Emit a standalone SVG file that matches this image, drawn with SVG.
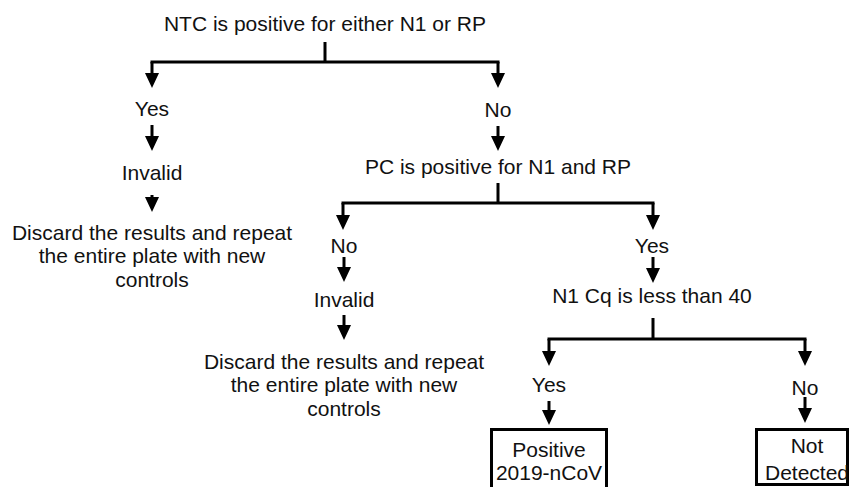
<svg xmlns="http://www.w3.org/2000/svg" width="850" height="487" viewBox="0 0 850 487">
<defs>
<marker id="ah" viewBox="0 0 15 14" refX="5" refY="7" markerWidth="15" markerHeight="14" markerUnits="userSpaceOnUse" orient="auto">
<path d="M0,0 L15,7 L0,14 z" fill="#000"/>
</marker>
<style>
text{font-family:"Liberation Sans",Arial,Helvetica,sans-serif;font-size:21px;fill:#111;text-anchor:middle}
.ln{stroke:#000;stroke-width:3;fill:none}
.ar{stroke:#000;stroke-width:3;fill:none;marker-end:url(#ah)}
.box{stroke:#000;stroke-width:3;fill:#fff}
</style>
</defs>
<rect width="850" height="487" fill="#fff"/>
<g id="connectors">
<path class="ln" d="M325,42 V62 M150.5,62 H499.5"/>
<path class="ar" d="M152,62 V78"/>
<path class="ar" d="M498,62 V78"/>
<path class="ar" d="M152,125 V141"/>
<path class="ar" d="M498,126 V141"/>
<path class="ar" d="M152,195 V202"/>
<path class="ln" d="M498,183 V203 M341.5,203 H654.5"/>
<path class="ar" d="M343,203 V220"/>
<path class="ar" d="M653,203 V220"/>
<path class="ar" d="M344,257 V272"/>
<path class="ar" d="M344,315 V330"/>
<path class="ar" d="M653,257 V273"/>
<path class="ln" d="M653,318 V339 M547.5,339 H806.5"/>
<path class="ar" d="M549,339 V356"/>
<path class="ar" d="M805,339 V356"/>
<path class="ar" d="M549,401 V415"/>
<path class="ar" d="M805,397 V413"/>
</g>
<g id="n-ntc"><text x="325" y="31">NTC is positive for either N1 or RP</text></g>
<g id="n-yes1"><text x="152" y="116">Yes</text></g>
<g id="n-no1"><text x="498" y="117">No</text></g>
<g id="n-invalid1"><text x="152" y="180">Invalid</text></g>
<g id="n-discard1"><text x="152" y="240">Discard the results and repeat</text><text x="152" y="263">the entire plate with new</text><text x="152" y="287">controls</text></g>
<g id="n-pc"><text x="498" y="174">PC is positive for N1 and RP</text></g>
<g id="n-no2"><text x="344" y="253">No</text></g>
<g id="n-invalid2"><text x="344" y="307">Invalid</text></g>
<g id="n-discard2"><text x="344" y="369">Discard the results and repeat</text><text x="344" y="392">the entire plate with new</text><text x="344" y="416">controls</text></g>
<g id="n-yes2"><text x="652" y="253">Yes</text></g>
<g id="n-n1cq"><text x="652" y="303">N1 Cq is less than 40</text></g>
<g id="n-yes3"><text x="549" y="392">Yes</text></g>
<g id="n-no3"><text x="805" y="395">No</text></g>
<g id="n-positive"><rect class="box" x="491.5" y="429.5" width="115" height="80"/><text x="549" y="457">Positive</text><text x="549" y="480">2019-nCoV</text></g>
<g id="n-notdetected"><rect class="box" x="756.5" y="429.5" width="91" height="55"/><text x="807" y="453">Not</text><text x="807" y="480">Detected</text></g>
</svg>
